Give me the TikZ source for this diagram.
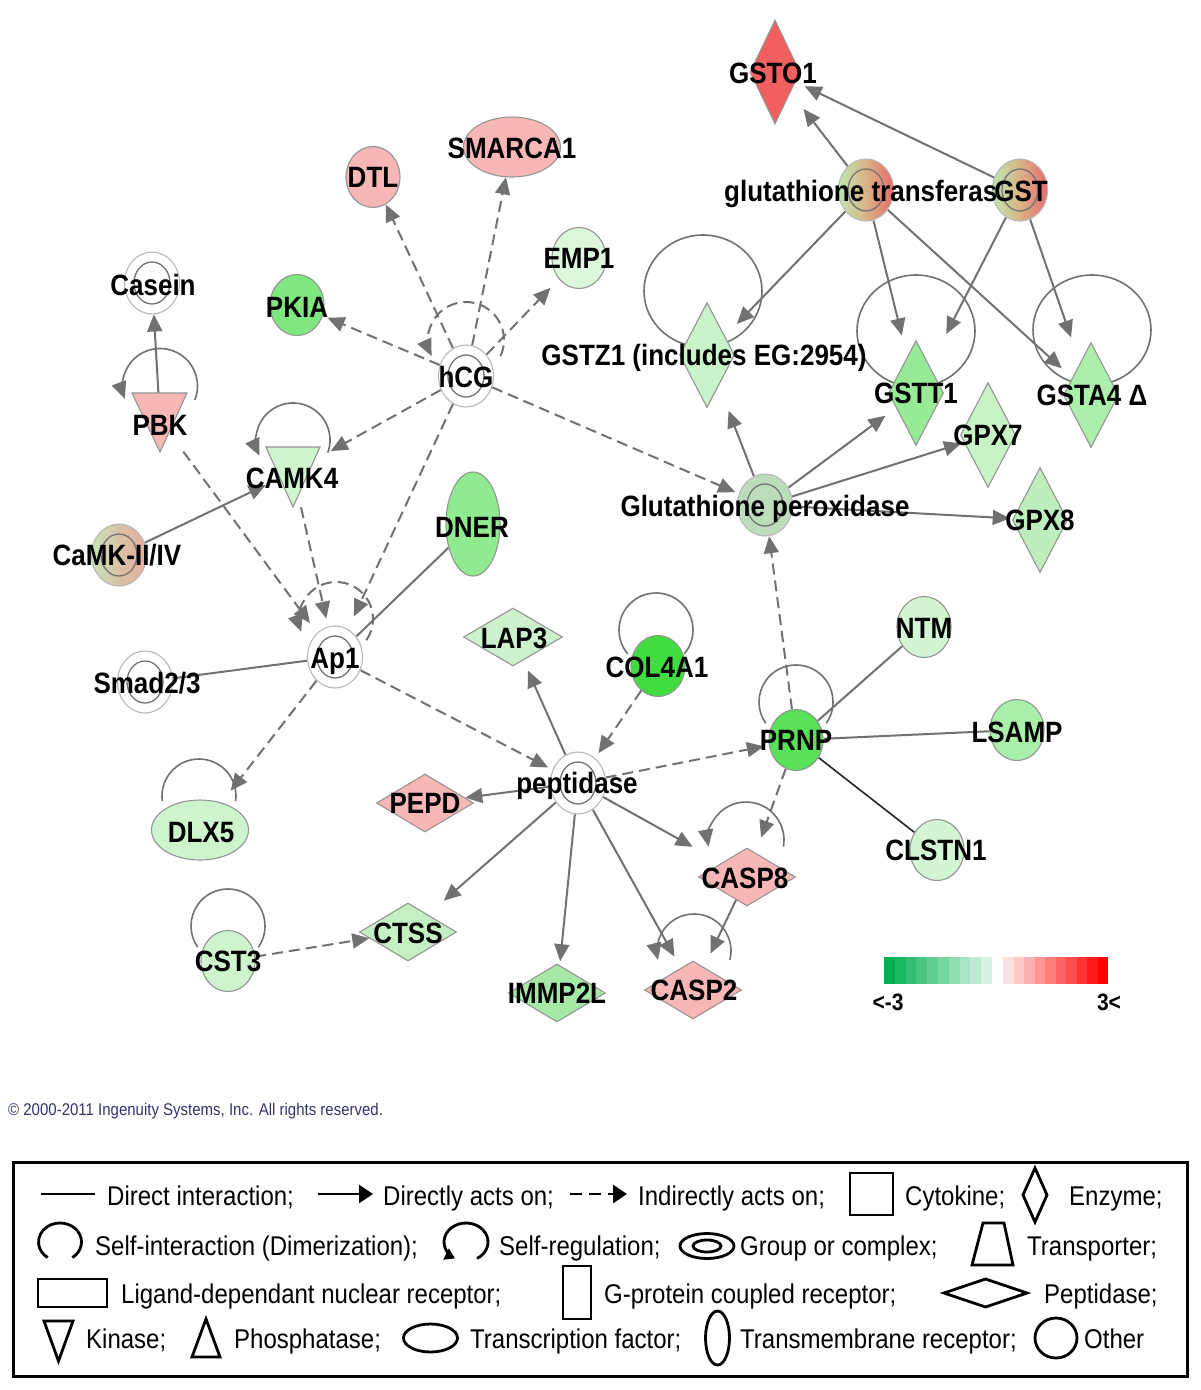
\documentclass[tikz,border=0pt]{standalone}
\usepackage{fontspec}
\setmainfont{Liberation Sans}
\usetikzlibrary{shapes.geometric,arrows.meta,calc}
\pgfdeclarelayer{bg}\pgfdeclarelayer{edges}\pgfdeclarelayer{labels}
\pgfsetlayers{bg,edges,main,labels}
\newcommand\vs[1]{\scalebox{1}[1.13]{#1}}
\definecolor{edgec}{HTML}{717171}
\definecolor{pinkf}{HTML}{F8B7B7}
\definecolor{cGSTO}{HTML}{F25F5F}
\definecolor{cPKIA}{HTML}{80E680}
\definecolor{cEMP}{HTML}{DDF7DD}
\definecolor{cDNER}{HTML}{90EB90}
\definecolor{cCOL}{HTML}{40DC40}
\definecolor{cPRNP}{HTML}{58E058}
\definecolor{cNTM}{HTML}{D3F5D3}
\definecolor{cLSAMP}{HTML}{A9EEA9}
\definecolor{cCAMK}{HTML}{CFF5CF}
\definecolor{cDLX5}{HTML}{CEF4CE}
\definecolor{cLAP3}{HTML}{CDF1CD}
\definecolor{cCTSS}{HTML}{C3EFC3}
\definecolor{cIMMP}{HTML}{A6E8A6}
\definecolor{cZ1}{HTML}{C9F4C9}
\definecolor{cTT1}{HTML}{97EB97}
\definecolor{cTA4}{HTML}{ABEFAB}
\definecolor{cPX7}{HTML}{C7F3C7}
\definecolor{cPX8}{HTML}{BEEDBE}
\definecolor{cGP}{HTML}{BCDCBC}
\definecolor{gL}{HTML}{BFE6B0}
\definecolor{gM}{HTML}{D9B486}
\definecolor{gR}{HTML}{E86A6A}
\definecolor{kL}{HTML}{C9E3BA}
\definecolor{kM}{HTML}{D8C2A6}
\definecolor{kR}{HTML}{E6AE9E}
\definecolor{barG}{HTML}{00B050}
\definecolor{cCopy}{HTML}{33336E}
\tikzset{
  nd/.style={draw=black!42, line width=1.1pt, inner sep=0pt},
  oth/.style={nd, ellipse, minimum width=54pt, minimum height=61pt},
  tfac/.style={nd, ellipse, minimum width=97pt, minimum height=60pt},
  tmem/.style={nd, ellipse, minimum width=54pt, minimum height=104pt},
  enz/.style={nd, diamond, minimum width=55pt, minimum height=105pt},
  pep/.style={nd, diamond, minimum width=97pt, minimum height=58pt},
  grp/.style={nd, ellipse, minimum width=55pt, minimum height=62pt, draw=black!28},
  ring/.style={draw=black!55, line width=1.3pt},
  hid/.style={circle, minimum size=60pt, inner sep=0pt},
  lbl/.style={font=\bfseries\fontsize{26}{28}\selectfont, text height=21pt, text depth=0pt, inner sep=0pt},
  con/.style={draw=edgec, line width=2pt},
  act/.style={con, -{Triangle[length=17pt, width=15pt]}},
  ind/.style={act, dash pattern=on 11pt off 6pt},
  lgt/.style={font=\fontsize{24}{26}\selectfont, anchor=base west, inner sep=0pt},
  lsym/.style={draw=black, line width=2.8pt},
}
\begin{document}
\begin{tikzpicture}[x=1pt,y=-1pt]
\useasboundingbox (0,0) rectangle (1200,1390);
\begin{pgfonlayer}{bg}
\fill[white] (0,0) rectangle (1200,1390);
\end{pgfonlayer}

% ---------------- nodes (shapes) ----------------
\node[enz, fill=cGSTO, minimum width=50pt, minimum height=104pt] (GSTO1) at (775,72) {};
\node[grp, left color=gL, right color=gR, middle color=gM] (gt) at (866,190) {};
\node[grp, left color=gL, right color=gR, middle color=gM] (GST) at (1020,190) {};
\node[enz, fill=cZ1] (GSTZ1) at (707,355) {};
\node[enz, fill=cTT1] (GSTT1) at (916,393) {};
\node[enz, fill=cTA4] (GSTA4) at (1091,395) {};
\node[enz, fill=cPX7] (GPX7) at (988,435) {};
\node[enz, fill=cPX8] (GPX8) at (1040,520) {};
\node[grp, fill=cGP] (GP) at (765,505) {};
\node[oth, fill=pinkf] (DTL) at (373,177) {};
\node[tfac, fill=pinkf] (SMARCA1) at (512,147) {};
\node[oth, fill=cEMP] (EMP1) at (579,258) {};
\node[oth, fill=cPKIA] (PKIA) at (297,305) {};
\node[grp, fill=white] (Casein) at (152,283) {};
\node[grp, fill=white] (hCG) at (466,376) {};
\node[hid] (PBK) at (160,420) {};
\node[hid] (CAMK4) at (293,472) {};
\node[grp, left color=kL, right color=kR, middle color=kM] (CaMK) at (119,555) {};
\node[tmem, fill=cDNER] (DNER) at (473,524) {};
\node[grp, fill=white] (Ap1) at (335,657) {};
\node[grp, fill=white] (Smad) at (145,682) {};
\node[tfac, fill=cDLX5] (DLX5) at (200,830) {};
\node[pep, fill=cLAP3, minimum width=99pt] (LAP3) at (513,637) {};
\node[oth, fill=cCOL] (COL4A1) at (658,666) {};
\node[grp, fill=white] (pept) at (578,783) {};
\node[pep, fill=pinkf] (PEPD) at (425,803) {};
\node[oth, fill=cPRNP] (PRNP) at (796,740) {};
\node[oth, fill=cNTM] (NTM) at (924,627) {};
\node[oth, fill=cLSAMP] (LSAMP) at (1017,730) {};
\node[oth, fill=cNTM] (CLSTN1) at (937,850) {};
\node[pep, fill=pinkf] (CASP8) at (747,877) {};
\node[pep, fill=pinkf] (CASP2) at (693,990) {};
\node[pep, fill=cCTSS] (CTSS) at (408,932) {};
\node[oth, fill=cDLX5] (CST3) at (228,961) {};
\node[pep, fill=cIMMP] (IMMP2L) at (557,993) {};

% triangles (kinases)
\filldraw[nd, fill=pinkf] (PBK.center) ++(-28,-27) -- ++(55,0) -- ++(-27,59) -- cycle;
\filldraw[nd, fill=cCAMK] (CAMK4.center) ++(-27,-25) -- ++(54,0) -- ++(-27,60) -- cycle;

% inner rings of groups
\foreach \g in {gt,GST,GP,Casein,hCG,CaMK,Ap1,Smad,pept}
  \draw[ring] (\g) ellipse[x radius=18, y radius=21];

% ---------------- connectors ----------------
\begin{pgfonlayer}{edges}
% self-interaction circles
\draw[con, line width=1.6pt] (703,291) ellipse[x radius=59, y radius=56];
\draw[con, line width=1.6pt] (916,331) ellipse[x radius=59, y radius=56];
\draw[con, line width=1.6pt] (1092,330) ellipse[x radius=59, y radius=55];
% self loops
\coordinate (hCGc) at (466,340);
\coordinate (Ap1c) at (336,619);
\coordinate (PBKc) at (160,386);
\coordinate (CAMKc) at (293,440);
\coordinate (CASP8c) at (746,840);
\coordinate (CASP2c) at (694,951);
\coordinate (DLX5c) at (199,796);
\coordinate (CST3c) at (228,926);
\coordinate (COLc) at (656,630);
\coordinate (PRNPc) at (796,702);
\draw[ind] (hCGc) ++(25:38) arc[start angle=25, end angle=-205, radius=38];
\draw[ind] (Ap1c) ++(35:37) arc[start angle=35, end angle=-200, radius=37];
\draw[act, line width=1.6pt] (PBKc) ++(22:37.5) arc[start angle=22, end angle=-200, radius=37.5];
\draw[act, line width=1.6pt] (CAMKc) ++(20:37) arc[start angle=20, end angle=-205, radius=37];
\draw[act, line width=1.6pt] (CASP8c) ++(10:38) arc[start angle=10, end angle=-190, radius=38];
\draw[act, line width=1.6pt] (CASP2c) ++(14:37) arc[start angle=14, end angle=-194, radius=37];
\draw[con, line width=1.6pt] (DLX5c) ++(8:37) arc[start angle=8, end angle=-188, radius=37];
\draw[con, line width=1.6pt] (CST3c) ++(35:37) arc[start angle=35, end angle=-215, radius=37];
\draw[con, line width=1.6pt] (COLc) ++(40:37) arc[start angle=40, end angle=-220, radius=37];
\draw[con, line width=1.6pt] (PRNPc) ++(35:37) arc[start angle=35, end angle=-215, radius=37];
% glutathione cluster
\draw[act, shorten >=21pt] (gt) -- (GSTO1);
\draw[act, shorten >=10pt] (GST) -- (GSTO1);
\draw[act, shorten >=17pt] (gt) -- (GSTZ1);
\draw[act, shorten >=22pt] (gt) -- (GSTT1);
\draw[act, shorten >=14pt] (gt) -- (GSTA4);
\draw[act, shorten >=36pt] (GST) -- (GSTT1);
\draw[act, shorten >=27pt] (GST) -- (GSTA4);
\draw[act, shorten >=27pt] (GP) -- (GSTZ1);
\draw[act, shorten >=13pt] (GP) -- (GSTT1);
\draw[act, shorten >=3pt] (GP) -- (GPX7);
\draw[act, shorten >=3pt] (GP) -- (GPX8);
\draw[ind, shorten >=4pt] (hCG) -- (GP);
\draw[ind] (PRNP) -- (GP);
% hCG
\draw[ind] (hCG) -- (DTL);
\draw[ind] (hCG) -- (SMARCA1);
\draw[ind, shorten >=12pt] (hCG) -- (EMP1);
\draw[ind, shorten >=5pt] (hCG) -- (PKIA);
\draw[ind, shorten >=13pt] (hCG) -- (CAMK4);
\draw[ind, shorten >=14pt] (hCG) -- (Ap1);
% Ap1
\draw[ind, shorten <=9pt, shorten >=12pt] (PBK) -- (Ap1);
\draw[ind, shorten <=6pt, shorten >=8pt] (CAMK4) -- (Ap1);
\draw[con] (DNER) -- (Ap1);
\draw[con] (Smad) -- (Ap1);
\draw[act] (CaMK) -- (CAMK4);
\draw[act, shorten <=-8pt] (PBK) -- (Casein);
\draw[ind, shorten >=15pt] (Ap1) -- (DLX5);
\draw[ind, shorten >=5pt] (Ap1) -- (pept);
% peptidase
\draw[act, shorten >=11pt] (pept) -- (LAP3);
\draw[ind, shorten >=6pt] (COL4A1) -- (pept);
\draw[ind, shorten >=5pt] (pept) -- (PRNP);
\draw[act] (pept) -- (PEPD);
\draw[act, shorten >=21pt] (pept) -- (CTSS);
\draw[act, shorten >=4pt] (pept) -- (IMMP2L);
\draw[act, shorten >=13pt] (pept) -- (CASP2);
\draw[act, shorten >=33pt] (pept) -- (CASP8);
\draw[act, shorten >=15pt] (CASP8) -- (CASP2);
\draw[ind, shorten >=16pt] (PRNP) -- (CASP8);
% PRNP
\draw[con] (PRNP) -- (NTM);
\draw[con] (PRNP) -- (LSAMP);
\draw[con, draw=black!85, line width=1.6pt] (PRNP) -- (CLSTN1);
\draw[ind] (CST3) -- (CTSS);
\end{pgfonlayer}

% ---------------- labels ----------------
\begin{pgfonlayer}{labels}
\node[lbl] (GSTO1-t) at (773,73) {\vs{GSTO1}};
\node[lbl, anchor=west] (gt-t) at (724,191) {\vs{glutathione transferas}};
\node[lbl] (GST-t) at (1021,191) {\vs{GST}};
\node[lbl] (GSTZ1-t) at (704,355) {\vs{GSTZ1 (includes EG:2954)}};
\node[lbl] (GSTT1-t) at (916,393) {\vs{GSTT1}};
\node[lbl] (GSTA4-t) at (1092,395) {\vs{GSTA4 Δ}};
\node[lbl] (GPX7-t) at (988,435) {\vs{GPX7}};
\node[lbl] (GPX8-t) at (1040,520) {\vs{GPX8}};
\node[lbl] (GP-t) at (765,506) {\vs{Glutathione peroxidase}};
\node[lbl] (DTL-t) at (373,177) {\vs{DTL}};
\node[lbl] (SMARCA1-t) at (512,148) {\vs{SMARCA1}};
\node[lbl] (EMP1-t) at (579,258) {\vs{EMP1}};
\node[lbl] (PKIA-t) at (297,307) {\vs{PKIA}};
\node[lbl] (Casein-t) at (153,285) {\vs{Casein}};
\node[lbl] (hCG-t) at (466,377) {\vs{hCG}};
\node[lbl] (PBK-t) at (160,425) {\vs{PBK}};
\node[lbl] (CAMK4-t) at (292,478) {\vs{CAMK4}};
\node[lbl] (CaMK-t) at (117,555) {\vs{CaMK-II/IV}};
\node[lbl] (DNER-t) at (472,527) {\vs{DNER}};
\node[lbl] (Ap1-t) at (335,658) {\vs{Ap1}};
\node[lbl] (Smad-t) at (147,683) {\vs{Smad2/3}};
\node[lbl] (LAP3-t) at (514,638) {\vs{LAP3}};
\node[lbl] (COL4A1-t) at (657,667) {\vs{COL4A1}};
\node[lbl] (pept-t) at (577,783) {\vs{peptidase}};
\node[lbl] (PEPD-t) at (425,803) {\vs{PEPD}};
\node[lbl] (DLX5-t) at (201,832) {\vs{DLX5}};
\node[lbl] (PRNP-t) at (796,740) {\vs{PRNP}};
\node[lbl] (NTM-t) at (924,628) {\vs{NTM}};
\node[lbl] (LSAMP-t) at (1017,732) {\vs{LSAMP}};
\node[lbl] (CLSTN1-t) at (936,850) {\vs{CLSTN1}};
\node[lbl] (CASP8-t) at (745,878) {\vs{CASP8}};
\node[lbl] (CASP2-t) at (694,990) {\vs{CASP2}};
\node[lbl] (CTSS-t) at (408,933) {\vs{CTSS}};
\node[lbl] (CST3-t) at (228,961) {\vs{CST3}};
\node[lbl] (IMMP2L-t) at (557,993) {\vs{IMMP2L}};
\end{pgfonlayer}

% ---------------- colour bar ----------------
\foreach \i in {0,...,9} {
  \pgfmathtruncatemacro\p{100-9.3*\i}
  \fill[barG!\p!white] ({884+10.8*\i},957) rectangle ({884+10.8*(\i+1)},984);
  \pgfmathtruncatemacro\q{12+9.8*\i}
  \fill[red!\q!white] ({1003+10.5*\i},957) rectangle ({1003+10.5*(\i+1)},984);
}
\node[font=\bfseries\fontsize{21}{23}\selectfont, inner sep=0pt, text height=17pt, text depth=0pt] (cbmin) at (888,1002) {\vs{<-3}};
\node[font=\bfseries\fontsize{21}{23}\selectfont, inner sep=0pt, text height=17pt, text depth=0pt] (cbmax) at (1109,1002) {\vs{3<}};

% ---------------- copyright ----------------
\node[anchor=base west, inner sep=0pt, font=\fontsize{15}{17}\selectfont, text=cCopy] (copy) at (8,1115) {\vs{© 2000-2011 Ingenuity Systems, Inc. All rights reserved.}};

% ---------------- legend ----------------
\draw[line width=3pt] (13,1162) rectangle (1187,1376);
% row 1
\draw[lsym] (41,1194) -- (95,1194);
\node[lgt] (L1) at (107,1205) {\vs{Direct interaction;}};
\draw[lsym, -{Triangle[length=14pt,width=18pt]}] (318,1194) -- (373,1194);
\node[lgt] (L2) at (383,1205) {\vs{Directly acts on;}};
\draw[lsym, dash pattern=on 12pt off 7pt, -{Triangle[length=14pt,width=18pt]}] (570,1194) -- (627,1194);
\node[lgt] (L3) at (638,1205) {\vs{Indirectly acts on;}};
\draw[lsym] (850,1173) rectangle (893,1215);
\node[lgt] (L4) at (905,1205) {\vs{Cytokine;}};
\draw[lsym] (1035,1168) -- (1047,1195) -- (1035,1222) -- (1023,1195) -- cycle;
\node[lgt] (L5) at (1069,1205) {\vs{Enzyme;}};
% row 2
\draw[lsym] (60,1242) ++(55:21.5 and 19) arc[start angle=55, end angle=-235, x radius=21.5, y radius=19];
\node[lgt] (L6) at (95,1255) {\vs{Self-interaction (Dimerization);}};
\draw[lsym, -{Triangle[length=10pt,width=12pt]}] (466,1242) ++(60:22 and 19) arc[start angle=60, end angle=-240, x radius=22, y radius=19];
\node[lgt] (L7) at (499,1255) {\vs{Self-regulation;}};
\draw[lsym] (707,1246) ellipse[x radius=27, y radius=12.5];
\draw[lsym] (707,1246) ellipse[x radius=14, y radius=6];
\node[lgt] (L8) at (740,1255) {\vs{Group or complex;}};
\draw[lsym] (972,1265) -- (1013,1265) -- (1004,1223) -- (983,1223) -- cycle;
\node[lgt] (L9) at (1027,1255) {\vs{Transporter;}};
% row 3
\draw[lsym] (38,1279) rectangle (107,1307);
\node[lgt] (L10) at (121,1303) {\vs{Ligand-dependant nuclear receptor;}};
\draw[lsym] (563,1266) rectangle (591,1319);
\node[lgt] (L11) at (604,1303) {\vs{G-protein coupled receptor;}};
\draw[lsym] (944,1293) -- (985.5,1279) -- (1027,1293) -- (985.5,1307) -- cycle;
\node[lgt] (L12) at (1044,1303) {\vs{Peptidase;}};
% row 4
\draw[lsym] (44,1321) -- (73,1321) -- (58.5,1361) -- cycle;
\node[lgt] (L13) at (86,1348) {\vs{Kinase;}};
\draw[lsym] (192,1357) -- (220,1357) -- (206,1319) -- cycle;
\node[lgt] (L14) at (234,1348) {\vs{Phosphatase;}};
\draw[lsym] (430.5,1338) ellipse[x radius=27, y radius=14];
\node[lgt] (L15) at (470,1348) {\vs{Transcription factor;}};
\draw[lsym] (717.5,1338) ellipse[x radius=12, y radius=27];
\node[lgt] (L16) at (740,1348) {\vs{Transmembrane receptor;}};
\draw[lsym] (1056,1338) ellipse[x radius=21, y radius=20];
\node[lgt] (L17) at (1084,1348) {\vs{Other}};
\end{tikzpicture}
\end{document}
